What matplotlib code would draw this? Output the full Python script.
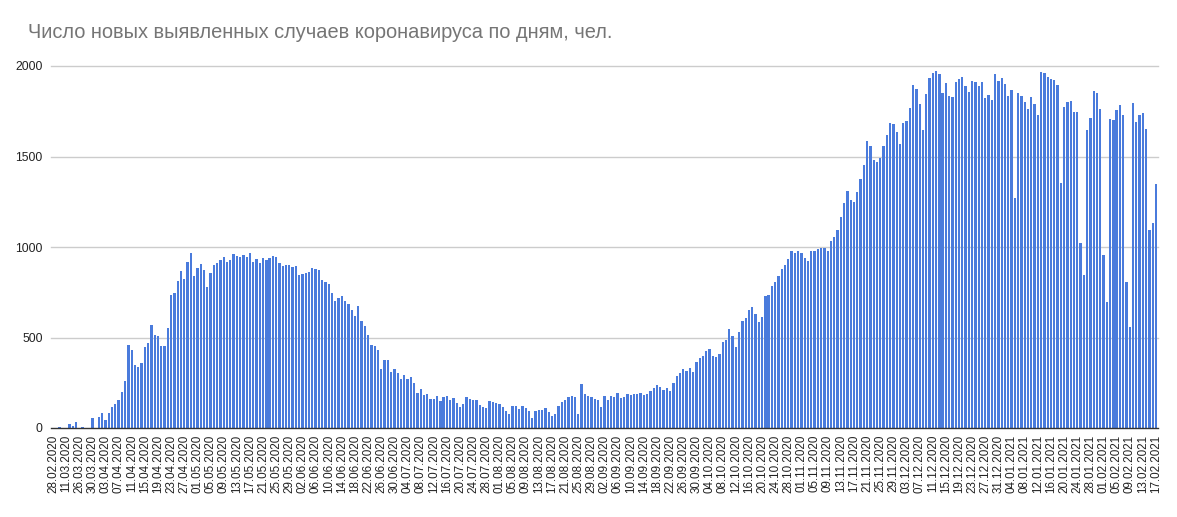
import matplotlib
matplotlib.use('Agg')
import matplotlib.pyplot as plt
import numpy as np
import pandas as pd

plt.rcParams['font.family'] = ['Liberation Sans', 'DejaVu Sans']

title = "Число новых выявленных случаев коронавируса по дням, чел."

# Daily new cases (rows: 28.02.2020 ... 17.02.2021)
cases_spring = [1, 0, 3, 0, 2, 22, 13, 35, 0, 7, 0, 0, 55, 0, 61, 85, 46, 85, 118, 134,
                157, 199, 262, 460, 433, 350, 339, 361, 446, 471, 571, 514, 508, 455, 455,
                554, 737, 748, 814, 869, 825, 919, 969, 842, 886, 908, 875, 781, 858, 902,
                913, 930, 947, 919, 930, 963, 952, 947, 958, 947, 967]
cases_summer = [919, 936, 913, 941, 930, 941, 952, 947, 913, 897, 902, 902, 890, 897, 847,
                853, 858, 864, 886, 880, 875, 820, 808, 797, 748, 703, 720, 731, 703, 687,
                654, 621, 674, 593, 565, 516, 459, 453, 431, 326, 376, 376, 309, 326, 304,
                271, 293, 271, 282, 249, 193, 214, 180, 186, 158, 158, 175, 147, 169, 175,
                153, 164, 136, 114, 131, 169, 158, 153, 153, 125, 114, 109, 147, 142, 136,
                131, 114, 92, 76, 120, 120, 103, 120, 109, 92, 53, 92, 98, 98, 109, 87, 64,
                76, 120, 142, 153]
cases_autumn = [169, 177, 169, 77, 243, 186, 175, 169, 158, 153, 114, 175, 155, 175, 169,
                192, 164, 169, 186, 180, 186, 186, 192, 180, 186, 203, 219, 236, 225, 208,
                219, 203, 249, 289, 304, 326, 315, 333, 311, 366, 389, 400, 427, 438, 400,
                394, 411, 477, 488, 549, 510, 449, 532, 593, 610, 654, 670, 632, 587, 615,
                731, 737, 786, 808, 840, 877, 901, 934, 976, 965, 976, 969, 937, 923, 976,
                976, 989, 994, 993, 976, 1031, 1053, 1094, 1164, 1245, 1308, 1260, 1249,
                1304, 1374, 1453, 1584, 1558, 1479, 1470]
cases_winter = [1490, 1558, 1619, 1683, 1678, 1634, 1567, 1683, 1696, 1766, 1895, 1873,
                1788, 1645, 1843, 1932, 1960, 1972, 1954, 1849, 1904, 1834, 1827, 1910, 1928,
                1937, 1890, 1854, 1917, 1913, 1890, 1910, 1821, 1840, 1812, 1954, 1917, 1932,
                1899, 1834, 1867, 1269, 1849, 1834, 1799, 1762, 1827, 1790, 1729, 1969, 1960,
                1937, 1928, 1923, 1895, 1352, 1772, 1799, 1807, 1744, 1744, 1020, 845, 1646,
                1711, 1862, 1849, 1762, 956, 698, 1707, 1702, 1757, 1785, 1729, 808, 560,
                1794, 1692, 1729, 1738, 1652, 1094, 1131, 1348]
cases = cases_spring + cases_summer + cases_autumn + cases_winter

# Tick labels: every 4th row
early_labels = ["28.02.2020", "11.03.2020"]
daily_labels = list(pd.date_range("2020-03-26", "2021-02-17", freq="4D").strftime("%d.%m.%Y"))
tick_labels = early_labels + daily_labels

y_ticks = [0, 500, 1000, 1500, 2000]

W, H = 1177, 517
fig = plt.figure(figsize=(W / 100, H / 100), dpi=100)
ax = fig.add_axes([51 / W, (H - 428) / H, (1158 - 51) / W, (428 - 66) / H])

x = np.arange(len(cases))
ax.bar(x, cases, width=0.7, color='#4a7bdc', linewidth=0, zorder=2)
ax.set_xlim(-0.6, len(cases) - 0.4)
ax.set_ylim(0, 2000)

ax.set_yticks(y_ticks)
ax.set_yticklabels([str(v) for v in y_ticks])
for v in y_ticks[1:]:
    ax.axhline(v, color='#cccccc', lw=1, zorder=1, clip_on=False)
for s in ['top', 'right', 'left']:
    ax.spines[s].set_visible(False)
ax.spines['bottom'].set_color('#333333')
ax.spines['bottom'].set_linewidth(1)
ax.spines['bottom'].set_zorder(3)

ax.tick_params(axis='y', length=0, pad=6, labelsize=8.7, labelcolor='#222222')
ax.set_xticks(x[::4])
ax.set_xticklabels(tick_labels, rotation=90, fontsize=8.4, color='#222222')
ax.tick_params(axis='x', length=0, pad=5)

fig.text(28 / W, 1 - 33 / H, title, fontsize=14.4, color='#757575', va='center', ha='left')

fig.savefig('out.png', dpi=100)
